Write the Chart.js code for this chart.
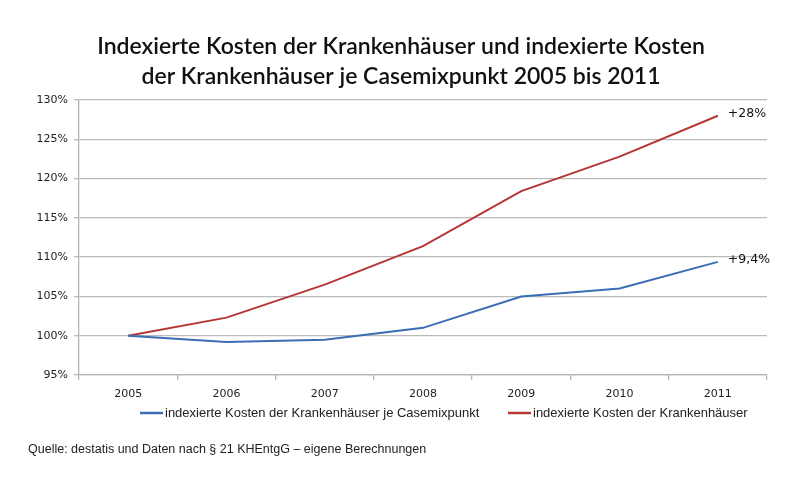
<!DOCTYPE html>
<html>
<head>
<meta charset="utf-8">
<script src="https://cdn.jsdelivr.net/npm/chart.js@4"></script>
<style>
  html, body { margin: 0; padding: 0; background: #fff; }
  #wrap { position: relative; width: 800px; height: 490px; }
</style>
</head>
<body>
<div id="wrap"><canvas id="ChartKosten" width="800" height="490"></canvas></div>
<script>
// ---------------- data ------------------------
const jahre = ['2005', '2006', '2007', '2008', '2009', '2010', '2011'];
const kostenJeCasemix = [100, 99.2, 99.5, 101.0, 105.0, 106.0, 109.4];
const kostenGesamt = [100, 102.3, 106.5, 111.4, 118.4, 122.8, 128.0];
const endLabels = ['+9,4%', '+28%'];
const serienNamen = [
    'indexierte Kosten der Krankenhäuser je Casemixpunkt',
    'indexierte Kosten der Krankenhäuser'
];
const titelZeilen = [
    'Indexierte Kosten der Krankenhäuser und indexierte Kosten',
    'der Krankenhäuser je Casemixpunkt 2005 bis 2011'
];
const quelle = 'Quelle: destatis und Daten nach § 21 KHEntgG – eigene Berechnungen';

const BLAU = '#3b6db4';
const ROT = '#b83535';
const TEXT = '#222';
const NARROW = '"Liberation Sans Narrow", "Liberation Sans", sans-serif';

// ---------------- extra drawing ------------------------
const extras = {
    id: 'extras',
    afterDraw(chart) {
        const ctx = chart.ctx;
        const x = chart.scales.x, y = chart.scales.y;
        ctx.save();

        // title
        ctx.fillStyle = '#111';
        ctx.font = '600 23px Lato, sans-serif';
        ctx.textAlign = 'center';
        ctx.textBaseline = 'middle';
        ctx.fillText(titelZeilen[0], 401, 47);
        ctx.fillText(titelZeilen[1], 401, 77);

        // end labels
        ctx.font = '12.5px "DejaVu Sans", sans-serif';
        ctx.textAlign = 'left';
        chart.data.datasets.forEach((ds, i) => {
            const last = ds.data.length - 1;
            const px = x.getPixelForValue(last);
            const py = y.getPixelForValue(ds.data[last]);
            ctx.fillText(endLabels[i], px + 10, py - 2);
        });

        // legend
        ctx.font = '13px ' + NARROW;
        ctx.textBaseline = 'middle';
        const legX = [140, 508];
        chart.data.datasets.forEach((ds, i) => {
            ctx.strokeStyle = ds.borderColor;
            ctx.lineWidth = 2.5;
            ctx.beginPath();
            ctx.moveTo(legX[i], 413);
            ctx.lineTo(legX[i] + 23, 413);
            ctx.stroke();
            ctx.fillStyle = TEXT;
            ctx.fillText(ds.label, legX[i] + 25, 413);
        });

        // source
        ctx.font = '12.5px ' + NARROW;
        ctx.fillText(quelle, 28, 450);
        ctx.restore();
    }
};

// ---------------- chart ------------------------
const grafico = document.getElementById('ChartKosten');

new Chart(grafico, {
    type: 'line',
    data: {
        labels: jahre,
        datasets: [{
            label: serienNamen[0],
            data: kostenJeCasemix,
            borderWidth: 2,
            borderColor: BLAU,
            backgroundColor: BLAU,
            pointRadius: 0,
            tension: 0
        }, {
            label: serienNamen[1],
            data: kostenGesamt,
            borderWidth: 2,
            borderColor: ROT,
            backgroundColor: ROT,
            pointRadius: 0,
            tension: 0
        }]
    },
    options: {
        responsive: false,
        animation: false,
        layout: {
            padding: { left: 0, right: 33, top: 100, bottom: 85 }
        },
        scales: {
            y: {
                min: 95,
                max: 130,
                afterFit(scale) { scale.width = 79; },
                ticks: {
                    stepSize: 5,
                    color: TEXT,
                    padding: 6,
                    font: { family: '"DejaVu Sans", sans-serif', size: 11 },
                    callback: v => v + '%'
                },
                grid: {
                    color: '#bababa',
                    lineWidth: 1.3,
                    tickLength: 5
                },
                border: { color: '#b5b5b5', width: 1.3 }
            },
            x: {
                offset: true,
                afterFit(scale) { scale.height = 30; },
                ticks: {
                    color: TEXT,
                    padding: 8,
                    font: { family: '"DejaVu Sans", sans-serif', size: 11 }
                },
                grid: {
                    offset: true,
                    drawOnChartArea: false,
                    color: '#b5b5b5',
                    lineWidth: 1.3,
                    tickLength: 5
                },
                border: { color: '#b5b5b5', width: 1.3 }
            }
        },
        plugins: {
            legend: { display: false },
            title: { display: false },
            tooltip: { enabled: false }
        }
    },
    plugins: [extras]
});
</script>
</body>
</html>
